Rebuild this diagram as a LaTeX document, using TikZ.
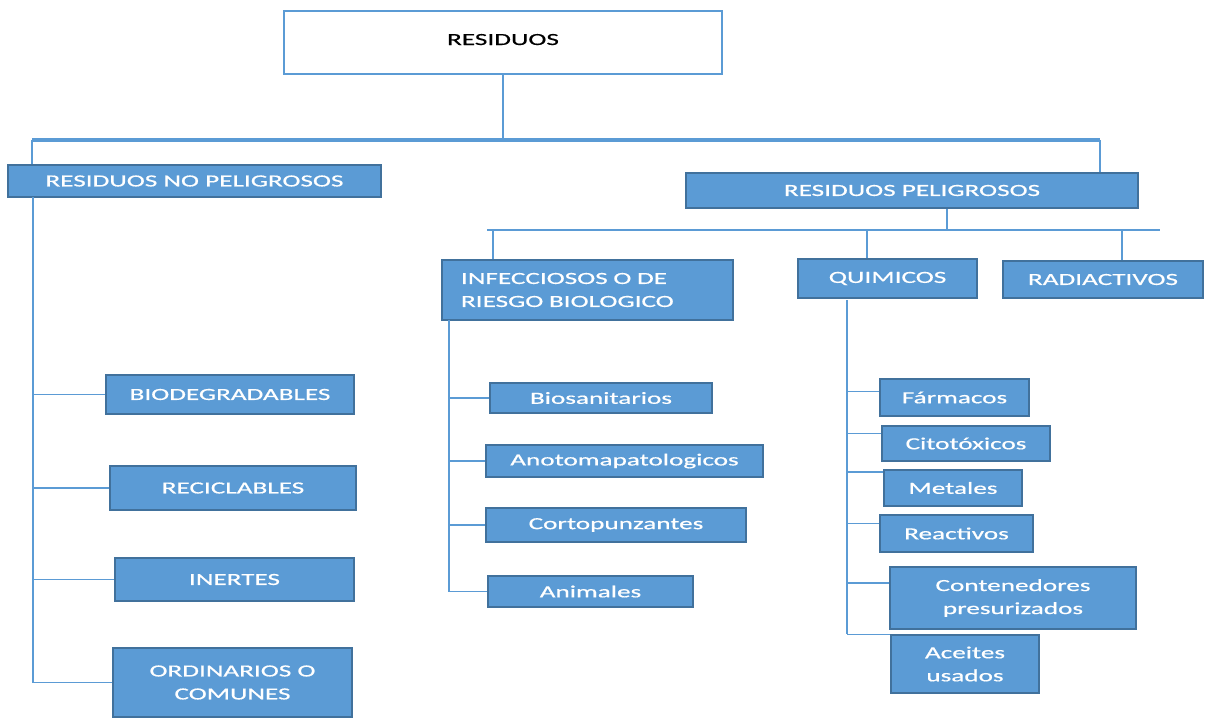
\documentclass[tikz,border=0pt]{standalone}
\usepackage{fontspec}
\setmainfont{Carlito}[FakeStretch=1.6,FakeBold=0.6]
\definecolor{azul}{HTML}{5B9BD5}
\definecolor{borde}{HTML}{41719C}
\tikzset{
  caja/.style={draw=borde, fill=azul, text=white, line width=0.7pt, inner sep=0pt, align=center},
  linea/.style={draw=azul, line width=0.8pt}
}

\begin{document}
\begin{tikzpicture}[x=0.5pt, y=-0.5pt, font=\fontsize{8.5}{11.5}\selectfont]
        \useasboundingbox (0,0) rectangle (1214,717);
        % nivel superior
        \node[draw=azul, line width=0.7pt, minimum width=219pt, minimum height=31.5pt] (a) at (503,42.5) {\raisebox{3pt}{RESIDUOS}};
        \node[caja, minimum width=186.5pt, minimum height=16pt] (b) at (194.5,181) {RESIDUOS NO PELIGROSOS};
        \node[caja, minimum width=226pt, minimum height=17.5pt] (c) at (912,190.5) {RESIDUOS PELIGROSOS};
        % peligrosos
        \node[caja, minimum width=145.5pt, minimum height=30pt, text width=126.5pt, align=left] (inf) at (587.5,290) {INFECCIOSOS O DE\\RIESGO BIOLOGICO};
        \node[caja, minimum width=89.5pt, minimum height=19.5pt] (qui) at (887.5,278.5) {QUIMICOS};
        \node[caja, minimum width=100pt, minimum height=18.5pt] (rad) at (1103,279.5) {RADIACTIVOS};
        % no peligrosos
        \node[caja, minimum width=124pt, minimum height=19.5pt] (bio) at (230,394.5) {BIODEGRADABLES};
        \node[caja, minimum width=123pt, minimum height=22pt] (rec) at (233,488) {RECICLABLES};
        \node[caja, minimum width=119.5pt, minimum height=21.5pt] (ine) at (234.5,579.5) {INERTES};
        \node[caja, minimum width=119.5pt, minimum height=34.5pt] (ord) at (232.5,682.5) {ORDINARIOS O\\COMUNES};
        % infecciosos
        \node[caja, minimum width=111pt, minimum height=15pt] (bios) at (601,398) {Biosanitarios};
        \node[caja, minimum width=138.5pt, minimum height=16pt] (ana) at (624.5,461) {Anotomapatologicos};
        \node[caja, minimum width=130pt, minimum height=17pt] (cor) at (616,525) {Cortopunzantes};
        \node[caja, minimum width=102.5pt, minimum height=15.5pt] (ani) at (590.5,591.5) {Animales};
        % quimicos
        \node[caja, minimum width=74.5pt, minimum height=18.5pt] (far) at (954.5,397.5) {Fármacos};
        \node[caja, minimum width=84pt, minimum height=17.5pt] (cit) at (966,443.5) {Citotóxicos};
        \node[caja, minimum width=69pt, minimum height=18pt] (met) at (953,488) {Metales};
        \node[caja, minimum width=76.5pt, minimum height=18.5pt] (rea) at (956.5,533.5) {Reactivos};
        \node[caja, minimum width=123pt, minimum height=31pt] (con) at (1013,598) {Contenedores\\presurizados};
        \node[caja, minimum width=74pt, minimum height=29pt] (ace) at (965,664) {Aceites\\usados};

        % conectores superiores
        \coordinate (h1) at (32,140);
        \coordinate (h2) at (1100,140);
        \draw[linea] (a.south) -- (a.south |- h1);
        \draw[linea, line width=1.6pt] (h1) -- (h2);
        \draw[linea] (h1) -- (h1 |- b.north);
        \draw[linea] (h2) -- (h2 |- c.north);

        \coordinate (h3) at (487,230);
        \coordinate (h4) at (1160,230);
        \coordinate (c1) at (947,230);
        \coordinate (d1) at (493,230);
        \coordinate (d2) at (867,230);
        \coordinate (d3) at (1122,230);
        \draw[linea] (h3) -- (h4);
        \draw[linea] (c.south -| c1) -- (c1);
        \draw[linea] (d1) -- (d1 |- inf.north);
        \draw[linea] (d2) -- (d2 |- qui.north);
        \draw[linea] (d3) -- (d3 |- rad.north);

        % no peligrosos
        \coordinate (e1) at (33,197);
        \draw[linea] (e1) -- (e1 |- ord.west);
        \draw[linea] (e1 |- bio.west) -- (bio.west);
        \draw[linea] (e1 |- rec.west) -- (rec.west);
        \draw[linea] (e1 |- ine.west) -- (ine.west);
        \draw[linea] (e1 |- ord.west) -- (ord.west);

        % infecciosos
        \coordinate (e2) at (449,320);
        \draw[linea] (e2) -- (e2 |- ani.west);
        \draw[linea] (e2 |- bios.west) -- (bios.west);
        \draw[linea] (e2 |- ana.west) -- (ana.west);
        \draw[linea] (e2 |- cor.west) -- (cor.west);
        \draw[linea] (e2 |- ani.west) -- (ani.west);

        % quimicos
        \coordinate (e3) at (847,300);
        \draw[linea] (e3) -- (e3 |- ace.north west);
        \draw[linea] (e3 |- far.west) ++(0,-6) -- ([yshift=3pt]far.west);
        \draw[linea] (e3 |- cit.west) ++(0,-10) -- ([yshift=5pt]cit.west);
        \draw[linea] (e3 |- met.west) ++(0,-16) -- ([yshift=8pt]met.west);
        \draw[linea] (e3 |- rea.west) ++(0,-10) -- ([yshift=5pt]rea.west);
        \draw[linea] (e3 |- con.west) ++(0,-15) -- ([yshift=7.5pt]con.west);
        \draw[linea] (e3 |- ace.north west) -- (ace.north west);
    \end{tikzpicture}
\end{document}
